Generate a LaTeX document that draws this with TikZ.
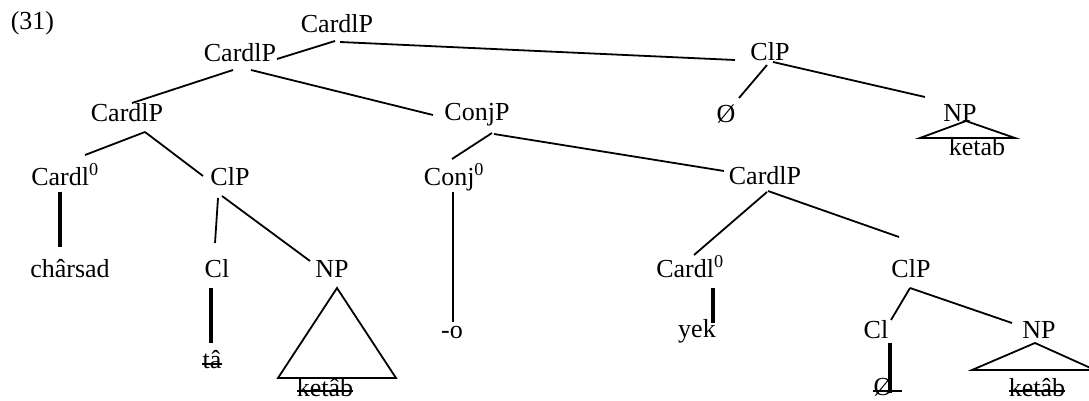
\documentclass[tikz,border=0pt]{standalone}
\usepackage{fontspec}
\setmainfont{Liberation Serif}
\newcommand{\zr}{\textsuperscript{0}}
\tikzstyle{cat}=[anchor=base,inner sep=0pt,font=\fontsize{26pt}{30pt}\selectfont]
\tikzstyle{edge}=[draw,line width=1.8pt,-]
\tikzstyle{stem}=[draw,line width=3.4pt,-]
\tikzstyle{strike}=[draw,line width=1.6pt,-]

\begin{document}
\begin{tikzpicture}[x=1pt,y=-1pt]
    \clip (0,0) rectangle (1089,401);
    \foreach \pos/\name/\txt in {{(32.5,30)/ex/(31)}, {(337,33)/top/CardlP},
                            {(240,62)/cardl1/CardlP}, {(770,61)/clp1/ClP},
                            {(127,122)/cardl2/CardlP}, {(477,121)/conjp/ConjP},
                            {(726,123)/nullA/Ø}, {(960,122)/npA/NP}, {(977,155)/ketabA/ketab},
                            {(65,185)/cardlH1/Cardl\zr}, {(230,185)/clp2/ClP},
                            {(454,185)/conjH/Conj\zr}, {(765,184)/cardl3/CardlP},
                            {(70,277)/charsad/chârsad}, {(217,277)/clA/Cl}, {(332,277)/npB/NP},
                            {(690,277)/cardlH2/Cardl\zr}, {(911,277)/clp3/ClP},
                            {(452,338)/conjo/-o}, {(697,337)/yek/yek}, {(876,338)/clB/Cl},
                            {(1039,338)/npC/NP}, {(212,368)/ta/tâ}, {(325,396)/ketabB/ketâb},
                            {(883,395)/nullB/Ø}, {(1037,396)/ketabC/ketâb}}
        \node[cat] (\name) at \pos {\txt};
    \foreach \s/\sx/\sy/\d/\dx/\dy in {top/-2/8/cardl1/37/-3, top/3/9/clp1/-35/-1,
                            cardl1/-7/8/cardl2/5/-19, cardl1/11/8/conjp/-44/-6,
                            clp1/-3/4/nullA/13/-25, clp1/3/1/npA/-35/-25,
                            cardl2/18/10/cardlH1/20/-30, cardl2/18/10/clp2/-27/-9,
                            clp2/-12/13/clA/-2/-34, clp2/-8/11/npB/-22/-16,
                            conjp/15/12/conjH/-2/-26, conjp/17/13/cardl3/-41/-13,
                            conjH/-1/7/conjo/1/-16,
                            cardl3/2/8/cardlH2/4/-22, cardl3/3/7/clp3/-12/-40,
                            clp3/-1/11/clB/15/-18, clp3/-1/11/npC/-27/-15}
        \path[edge] ([shift={(\sx,\sy)}]\s.base) -- ([shift={(\dx,\dy)}]\d.base);
    \foreach \s/\sx/\sy/\d/\dx/\dy in {cardlH1/-5/7/charsad/-10/-30, clA/-6/11/ta/-1/-25,
                            cardlH2/23/11/yek/16/-14, clB/14/5/nullB/7/-2}
        \path[stem] ([shift={(\sx,\sy)}]\s.base) -- ([shift={(\dx,\dy)}]\d.base);
    % triangles under the NPs
    \foreach \np/\ax/\ay/\lx/\rx/\by in {npA/6/-1/-40/55/16, npB/5/11/-54/64/101, npC/-4/5/-67/56/32}
        \path[edge] ([shift={(\ax,\ay)}]\np.base) -- ([shift={(\lx,\by)}]\np.base)
            -- ([shift={(\rx,\by)}]\np.base) -- cycle;
%	deleted copies
    \foreach \w/\up/\ext in {ta/4/0, ketabB/5/0, nullB/4/9, ketabC/5/0}
        \path[strike] ([shift={(0,-\up)}]\w.base west) -- ([shift={(\ext,-\up)}]\w.base east);
\end{tikzpicture}
\end{document}
